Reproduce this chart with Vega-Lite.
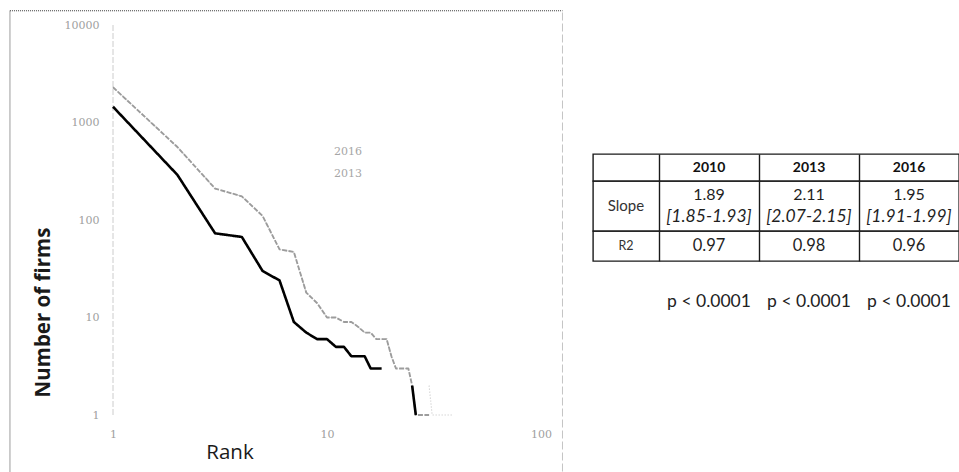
{
  "$schema": "https://vega.github.io/schema/vega-lite/v6.json",
  "background": "white",
  "padding": {"left": 9, "top": 10, "right": 0, "bottom": 0},
  "bounds": "flush",
  "spacing": 52,
  "config": {
    "view": {"stroke": null},
    "text": {"font": "Lato", "color": "#1f1f1f"}
  },
  "datasets": {
    "ranks": [
      {"year": "2016", "seg": "a", "rank": 1, "firms": 2300},
      {"year": "2016", "seg": "a", "rank": 2, "firms": 560},
      {"year": "2016", "seg": "a", "rank": 3, "firms": 210},
      {"year": "2016", "seg": "a", "rank": 4, "firms": 175},
      {"year": "2016", "seg": "a", "rank": 5, "firms": 110},
      {"year": "2016", "seg": "a", "rank": 6, "firms": 50},
      {"year": "2016", "seg": "a", "rank": 7, "firms": 47},
      {"year": "2016", "seg": "a", "rank": 8, "firms": 18},
      {"year": "2016", "seg": "a", "rank": 9, "firms": 14},
      {"year": "2016", "seg": "a", "rank": 10, "firms": 10},
      {"year": "2016", "seg": "a", "rank": 11, "firms": 10},
      {"year": "2016", "seg": "a", "rank": 12, "firms": 9},
      {"year": "2016", "seg": "a", "rank": 13, "firms": 9},
      {"year": "2016", "seg": "a", "rank": 14, "firms": 8},
      {"year": "2016", "seg": "a", "rank": 15, "firms": 7},
      {"year": "2016", "seg": "a", "rank": 16, "firms": 7},
      {"year": "2016", "seg": "a", "rank": 17, "firms": 6},
      {"year": "2016", "seg": "a", "rank": 18, "firms": 6},
      {"year": "2016", "seg": "a", "rank": 19, "firms": 6},
      {"year": "2016", "seg": "a", "rank": 20, "firms": 4},
      {"year": "2016", "seg": "a", "rank": 21, "firms": 3},
      {"year": "2016", "seg": "a", "rank": 22, "firms": 3},
      {"year": "2016", "seg": "a", "rank": 23, "firms": 3},
      {"year": "2016", "seg": "a", "rank": 24, "firms": 3},
      {"year": "2016", "seg": "b", "rank": 30, "firms": 2},
      {"year": "2016", "seg": "b", "rank": 31, "firms": 1},
      {"year": "2016", "seg": "b", "rank": 32, "firms": 1},
      {"year": "2016", "seg": "b", "rank": 33, "firms": 1},
      {"year": "2016", "seg": "b", "rank": 34, "firms": 1},
      {"year": "2016", "seg": "b", "rank": 35, "firms": 1},
      {"year": "2016", "seg": "b", "rank": 36, "firms": 1},
      {"year": "2016", "seg": "b", "rank": 37, "firms": 1},
      {"year": "2016", "seg": "b", "rank": 38, "firms": 1},
      {"year": "2016", "seg": "b", "rank": 39, "firms": 1},
      {"year": "2013", "seg": "a", "rank": 1, "firms": 2300},
      {"year": "2013", "seg": "a", "rank": 2, "firms": 560},
      {"year": "2013", "seg": "a", "rank": 3, "firms": 210},
      {"year": "2013", "seg": "a", "rank": 4, "firms": 175},
      {"year": "2013", "seg": "a", "rank": 5, "firms": 110},
      {"year": "2013", "seg": "a", "rank": 6, "firms": 50},
      {"year": "2013", "seg": "a", "rank": 7, "firms": 47},
      {"year": "2013", "seg": "a", "rank": 8, "firms": 18},
      {"year": "2013", "seg": "a", "rank": 9, "firms": 14},
      {"year": "2013", "seg": "a", "rank": 10, "firms": 10},
      {"year": "2013", "seg": "a", "rank": 11, "firms": 10},
      {"year": "2013", "seg": "a", "rank": 12, "firms": 9},
      {"year": "2013", "seg": "a", "rank": 13, "firms": 9},
      {"year": "2013", "seg": "a", "rank": 14, "firms": 8},
      {"year": "2013", "seg": "a", "rank": 15, "firms": 7},
      {"year": "2013", "seg": "a", "rank": 16, "firms": 7},
      {"year": "2013", "seg": "a", "rank": 17, "firms": 6},
      {"year": "2013", "seg": "a", "rank": 18, "firms": 6},
      {"year": "2013", "seg": "a", "rank": 19, "firms": 6},
      {"year": "2013", "seg": "a", "rank": 20, "firms": 4},
      {"year": "2013", "seg": "a", "rank": 21, "firms": 3},
      {"year": "2013", "seg": "a", "rank": 22, "firms": 3},
      {"year": "2013", "seg": "a", "rank": 23, "firms": 3},
      {"year": "2013", "seg": "a", "rank": 24, "firms": 3},
      {"year": "2013", "seg": "a", "rank": 25, "firms": 2},
      {"year": "2013", "seg": "a", "rank": 26, "firms": 1},
      {"year": "2013", "seg": "a", "rank": 27, "firms": 1},
      {"year": "2013", "seg": "a", "rank": 28, "firms": 1},
      {"year": "2013", "seg": "a", "rank": 29, "firms": 1},
      {"year": "2013", "seg": "a", "rank": 30, "firms": 1},
      {"year": "2010", "seg": "a", "rank": 1, "firms": 1450},
      {"year": "2010", "seg": "a", "rank": 2, "firms": 290},
      {"year": "2010", "seg": "a", "rank": 3, "firms": 73},
      {"year": "2010", "seg": "a", "rank": 4, "firms": 67},
      {"year": "2010", "seg": "a", "rank": 5, "firms": 30},
      {"year": "2010", "seg": "a", "rank": 6, "firms": 24},
      {"year": "2010", "seg": "a", "rank": 7, "firms": 9},
      {"year": "2010", "seg": "a", "rank": 8, "firms": 7},
      {"year": "2010", "seg": "a", "rank": 9, "firms": 6},
      {"year": "2010", "seg": "a", "rank": 10, "firms": 6},
      {"year": "2010", "seg": "a", "rank": 11, "firms": 5},
      {"year": "2010", "seg": "a", "rank": 12, "firms": 5},
      {"year": "2010", "seg": "a", "rank": 13, "firms": 4},
      {"year": "2010", "seg": "a", "rank": 14, "firms": 4},
      {"year": "2010", "seg": "a", "rank": 15, "firms": 4},
      {"year": "2010", "seg": "a", "rank": 16, "firms": 3},
      {"year": "2010", "seg": "a", "rank": 17, "firms": 3},
      {"year": "2010", "seg": "a", "rank": 18, "firms": 3},
      {"year": "2010", "seg": "b", "rank": 25, "firms": 2},
      {"year": "2010", "seg": "b", "rank": 26, "firms": 1}
    ],
    "stats": [
      {"year": "2010", "slope": "1.89", "ci": "[1.85-1.93]", "r2": "0.97", "p": "p < 0.0001"},
      {"year": "2013", "slope": "2.11", "ci": "[2.07-2.15]", "r2": "0.98", "p": "p < 0.0001"},
      {"year": "2016", "slope": "1.95", "ci": "[1.91-1.99]", "r2": "0.96", "p": "p < 0.0001"}
    ]
  },
  "hconcat": [
    {
      "width": 428,
      "height": 390,
      "layer": [
        {
          "data": {"values": [{}]},
          "mark": {"type": "rule", "color": "#cccccc", "strokeWidth": 1, "strokeDash": [6, 2]},
          "encoding": {
            "x": {"datum": 1, "type": "quantitative", "scale": {"type": "log", "domain": [1, 100], "nice": false}},
            "y": {"datum": 1, "type": "quantitative", "scale": {"type": "log", "domain": [1, 10000], "nice": false}},
            "y2": {"datum": 10000}
          }
        },
        {
          "data": {"values": [{}]},
          "mark": {"type": "rule", "color": "#3a3a3a", "strokeWidth": 1, "strokeDash": [1, 1]},
          "encoding": {
            "x": {"datum": 0.33, "type": "quantitative", "scale": {"type": "log", "domain": [1, 100], "nice": false}},
            "y": {"datum": 0.2633, "type": "quantitative", "scale": {"type": "log", "domain": [1, 10000], "nice": false}},
            "y2": {"datum": 14000}
          }
        },
        {
          "data": {"values": [{}]},
          "mark": {"type": "rule", "color": "#3a3a3a", "strokeWidth": 1, "strokeDash": [1, 1]},
          "encoding": {
            "x": {"datum": 0.33, "type": "quantitative", "scale": {"type": "log", "domain": [1, 100], "nice": false}},
            "x2": {"datum": 126},
            "y": {"datum": 14000, "type": "quantitative", "scale": {"type": "log", "domain": [1, 10000], "nice": false}}
          }
        },
        {
          "data": {"values": [{}]},
          "mark": {"type": "rule", "color": "#c4c4c4", "strokeWidth": 1, "strokeDash": [8, 3]},
          "encoding": {
            "x": {"datum": 126, "type": "quantitative", "scale": {"type": "log", "domain": [1, 100], "nice": false}},
            "y": {"datum": 0.2633, "type": "quantitative", "scale": {"type": "log", "domain": [1, 10000], "nice": false}},
            "y2": {"datum": 14000}
          }
        },
        {
          "data": {"name": "ranks"},
          "mark": {"type": "line", "strokeJoin": "round"},
          "encoding": {
            "x": {
              "field": "rank", "type": "quantitative",
              "scale": {"type": "log", "domain": [1, 100], "nice": false},
              "axis": {
                "values": [1, 10, 100], "format": "d",
                "domain": false, "ticks": false, "tickSize": 0, "grid": false,
                "labelPadding": 13, "labelFlush": false, "labelOverlap": false,
                "labelFont": "DejaVu Serif", "labelFontSize": 11, "labelColor": "#a0a0a0",
                "title": "Rank", "titleFont": "Open Sans", "titleFontSize": 20.5, "titleFontWeight": "normal",
                "titleColor": "#1a1a1a", "titleX": 116.5, "titleY": 37, "titleBaseline": "middle"
              }
            },
            "y": {
              "field": "firms", "type": "quantitative",
              "scale": {"type": "log", "domain": [1, 10000], "nice": false},
              "axis": {
                "values": [1, 10, 100, 1000, 10000], "format": "d",
                "domain": false, "ticks": false, "tickSize": 0, "grid": false,
                "labelPadding": 14, "labelFlush": false, "labelOverlap": false,
                "labelFont": "DejaVu Serif", "labelFontSize": 11, "labelColor": "#a0a0a0",
                "title": "Number of firms", "titleFont": "Open Sans", "titleFontSize": 20.5, "titleFontWeight": "bold",
                "titleColor": "#1a1a1a", "titleX": -69.5, "titleY": 287, "titleBaseline": "middle", "titleAngle": -90
              }
            },
            "color": {
              "field": "year", "type": "nominal",
              "scale": {"domain": ["2010", "2013", "2016"], "range": ["#000000", "#9c9c9c", "#c2c2c2"]},
              "legend": {
                "values": ["2016", "2013"], "orient": "none", "legendX": 210, "legendY": 121,
                "title": null, "symbolOpacity": 0, "symbolSize": 0, "symbolStrokeWidth": 0,
                "labelOffset": 0, "padding": 0, "rowPadding": 10,
                "labelFont": "DejaVu Serif", "labelFontSize": 11, "labelColor": "#a6a6a6"
              }
            },
            "strokeWidth": {
              "field": "year", "type": "ordinal",
              "scale": {"domain": ["2010", "2013", "2016"], "range": [2.6, 1.1, 1.1]},
              "legend": null
            },
            "strokeDash": {
              "field": "year", "type": "nominal",
              "scale": {"domain": ["2010", "2013", "2016"], "range": [[1, 0], [5, 1.5], [1, 2]]},
              "legend": null
            },
            "detail": {"field": "seg"},
            "order": {"field": "rank", "type": "quantitative"}
          }
        }
      ]
    },
    {
      "vconcat": [
        {
          "width": 366,
          "height": 129,
          "data": {"values": []},
          "mark": "text"
        },
        {
          "width": 366, "height": 27,
          "view": {"stroke": "#1a1a1a", "strokeWidth": 1.4},
          "data": {"name": "stats"},
          "mark": {"type": "text", "fontSize": 14, "fontWeight": "bold", "color": "#111111"},
          "encoding": {
            "x": {"field": "year", "type": "nominal",
              "scale": {"type": "band", "range": [66, 366], "paddingInner": 0, "paddingOuter": 0},
              "axis": {"title": null, "labels": false, "ticks": false, "domain": false, "grid": true, "gridColor": "#1a1a1a", "gridWidth": 1.4, "gridOpacity": 1, "bandPosition": 0}},
            "text": {"field": "year"}
          }
        },
        {
          "width": 366, "height": 50,
          "view": {"stroke": "#1a1a1a", "strokeWidth": 1.4},
          "resolve": {"scale": {"x": "independent"}, "axis": {"x": "independent"}},
          "layer": [
            {
              "data": {"values": [{"label": "Slope"}]},
              "mark": {"type": "text", "fontSize": 15, "color": "#333333"},
              "encoding": {
                "x": {"field": "label", "type": "nominal", "scale": {"type": "band", "range": [0, 66], "paddingInner": 0, "paddingOuter": 0}, "axis": null},
                "text": {"field": "label"}
              }
            },
            {
              "data": {"name": "stats"},
              "mark": {"type": "text", "fontSize": 16, "dy": -11},
              "encoding": {
                "x": {"field": "year", "type": "nominal",
                  "scale": {"type": "band", "range": [66, 366], "paddingInner": 0, "paddingOuter": 0},
                  "axis": {"title": null, "labels": false, "ticks": false, "domain": false, "grid": true, "gridColor": "#1a1a1a", "gridWidth": 1.4, "gridOpacity": 1, "bandPosition": 0}},
                "text": {"field": "slope"}
              }
            },
            {
              "data": {"name": "stats"},
              "mark": {"type": "text", "fontSize": 17.5, "fontStyle": "italic", "dy": 11},
              "encoding": {
                "x": {"field": "year", "type": "nominal",
                  "scale": {"type": "band", "range": [66, 366], "paddingInner": 0, "paddingOuter": 0}, "axis": null},
                "text": {"field": "ci"}
              }
            }
          ]
        },
        {
          "width": 366, "height": 30,
          "view": {"stroke": "#1a1a1a", "strokeWidth": 1.4},
          "resolve": {"scale": {"x": "independent"}, "axis": {"x": "independent"}},
          "layer": [
            {
              "data": {"values": [{"label": "R2"}]},
              "mark": {"type": "text", "fontSize": 12.5, "color": "#333333"},
              "encoding": {
                "x": {"field": "label", "type": "nominal", "scale": {"type": "band", "range": [0, 66], "paddingInner": 0, "paddingOuter": 0}, "axis": null},
                "text": {"field": "label"}
              }
            },
            {
              "data": {"name": "stats"},
              "mark": {"type": "text", "fontSize": 16.5},
              "encoding": {
                "x": {"field": "year", "type": "nominal",
                  "scale": {"type": "band", "range": [66, 366], "paddingInner": 0, "paddingOuter": 0},
                  "axis": {"title": null, "labels": false, "ticks": false, "domain": false, "grid": true, "gridColor": "#1a1a1a", "gridWidth": 1.4, "gridOpacity": 1, "bandPosition": 0}},
                "text": {"field": "r2"}
              }
            },
            {
              "data": {"name": "stats"},
              "mark": {"type": "text", "fontSize": 17.5, "dy": 56, "color": "#222222"},
              "encoding": {
                "x": {"field": "year", "type": "nominal",
                  "scale": {"type": "band", "range": [66, 366], "paddingInner": 0, "paddingOuter": 0}, "axis": null},
                "text": {"field": "p"}
              }
            }
          ]
        }
      ],
      "spacing": 0,
      "bounds": "flush"
    }
  ]
}
